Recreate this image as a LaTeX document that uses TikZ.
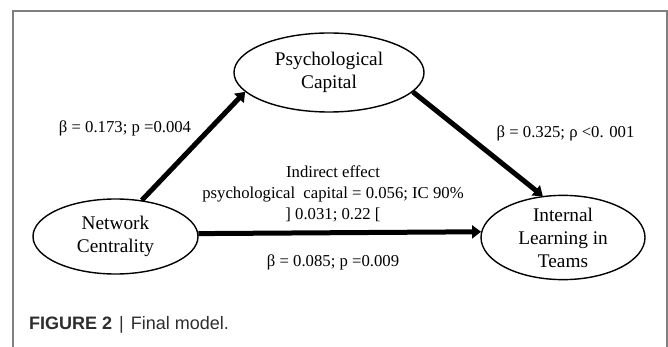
\documentclass[tikz,border=0pt]{standalone}
\usepackage{fontspec}
\setmainfont{Liberation Serif}
\newfontfamily\capfont{Liberation Sans}
\usetikzlibrary{shapes.geometric,arrows.meta}
\definecolor{framegray}{HTML}{7F7F7F}
\definecolor{captext}{HTML}{2E2E2E}
\begin{document}
\begin{tikzpicture}[x=1pt,y=-1pt,
  ell/.style={draw, ellipse, line width=1.4pt, inner sep=0pt, align=center,
    font=\fontsize{19.3}{23}\selectfont},
  arr/.style={line width=5pt, -{Triangle[length=9pt,width=13pt]}},
  lab/.style={font=\fontsize{16.7}{21}\selectfont, align=center, inner sep=0pt}]
\useasboundingbox (0,0) rectangle (668,347);
\fill[white] (0,0) rectangle (668,347);
\draw[framegray, line width=1.2pt] (13,350) -- (13,11) -- (667,11) -- (667,350);

\node[ell, minimum width=190pt, minimum height=79pt] (pc) at (329,72.5) {Psychological\\Capital};
\node[ell, minimum width=165pt, minimum height=75pt] (nc) at (115.5,236.5) {Network\\Centrality};
\node[ell, minimum width=164pt, minimum height=81pt] (ilt) at (563,237.5) {Internal\\Learning in\\Teams};

\draw[arr] (nc.54.8) -- (pc.193.3);
\draw[arr] (pc.-13.6) -- (ilt.116.8);
\draw[arr] (nc.2.4) -- (ilt.176.8);

\node[lab] (l1) at (125,128) {β = 0.173; p =0.004};
\node[lab] (l2) at (565.5,133) {β = 0.325; ρ <0. 001};
\node[lab] (l3) at (333,194) {Indirect effect\\psychological\ \ capital = 0.056; IC 90\%\\] 0.031; 0.22 [};
\node[lab] (l4) at (333,262) {β = 0.085; p =0.009};

\node[anchor=west, inner sep=0pt, text=captext, font=\capfont\fontsize{18}{20}\selectfont] (cap) at (29,325)
  {\textbf{FIGURE 2}\hspace{7pt}|\hspace{7pt}Final model.};
\end{tikzpicture}
\end{document}
